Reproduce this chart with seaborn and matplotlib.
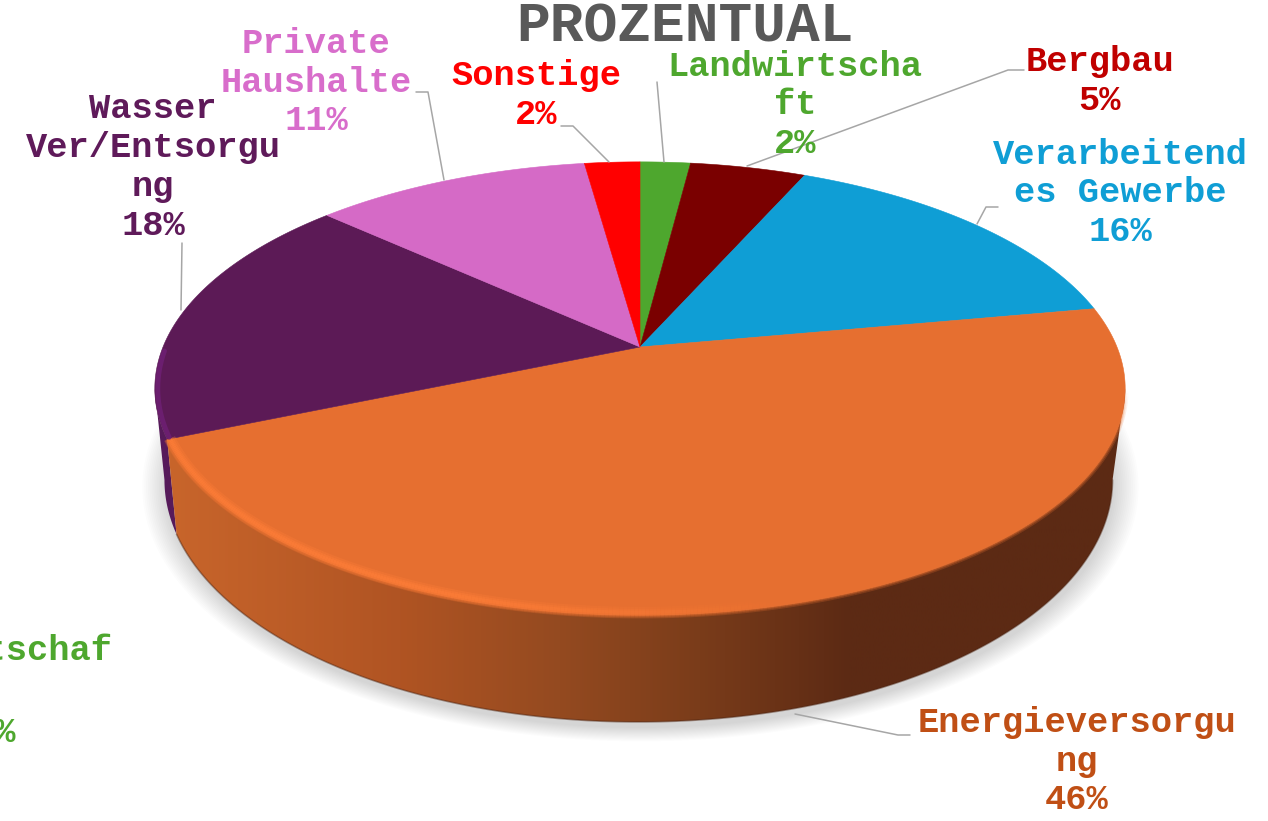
import numpy as np
import matplotlib
matplotlib.use('Agg')
import matplotlib.pyplot as plt
from matplotlib.collections import LineCollection
from matplotlib.colors import to_rgb
from matplotlib.patches import Polygon
import seaborn as sns

categories = ['Landwirtscha\nft', 'Bergbau', 'Verarbeitend\nes Gewerbe', 'Energieversorgu\nng',
              'Bauwirtschaf\nt', 'Wasser\nVer/Entsorgu\nng', 'Private\nHaushalte', 'Sonstige']
shares = [2.0, 4.6, 15.51, 46.49, 0.0, 18.2, 11.0, 2.2]
face_colors = ['#4ea72e', '#7a0000', '#0f9ed5', '#e66f30', '#4ea72e', '#5c1a56', '#d56ac6', '#ff0000']
text_colors = ['#4ea72e', '#c00000', '#0f9ed5', '#c04f15', '#4ea72e', '#5f1a5a', '#d86dcb', '#ff0000']

# where the labels and leader lines sit, in pixels
label_pos = [(795, 105), (1100, 81), (1120, 193), (1077, 761), (-15, 670), (153, 167), (316, 82), (536, 95)]
leaders = [[(657, 82), (664, 162)],
           [(1024, 70), (1008, 70), (747, 166)],
           [(998, 207), (986, 207), (977, 224)],
           [(910, 735), (898, 735), (795, 714)],
           None,
           [(182, 243), (181, 310)],
           [(416, 92), (428, 92), (444, 180)],
           [(561, 126), (573, 126), (609, 162)]]

W, H = 1268, 821
CX, CY, A, B, K = 640, 347, 219, 477, 0.183
# angle where the disc is widest, the side starts and ends there
WIDEST = np.degrees(np.arcsin(K))

sns.set_theme(style='white')
plt.rcParams['font.family'] = ['Liberation Mono', 'DejaVu Sans Mono']

fig, ax = plt.subplots(figsize=(W / 100, H / 100), dpi=100)
fig.subplots_adjust(0, 0, 1, 1)

# pie gives the angles, the perspective is applied afterwards
palette = sns.color_palette(face_colors)
wedges, _ = ax.pie(shares, startangle=90, counterclock=False, colors=palette)
angles = [(w.theta1 % 360, w.theta2 % 360) for w in wedges]
angles = [(t1, t2 if t2 > t1 or t2 - t1 == 0 else t2 + 360) for t1, t2 in angles]
for w in wedges:
    w.remove()
ax.set_aspect('auto')
ax.set_xlim(0, W)
ax.set_ylim(H, 0)
ax.axis('off')


def top_arc(t1, t2, n=200):
    t = np.radians(np.linspace(t1, t2, n))
    x, y = np.cos(t), np.sin(t)
    w = 1 + K * y
    return np.column_stack([CX + B * x / w, CY - A * y / w])


def bottom_of(pts):
    return np.column_stack([638.5 + (pts[:, 0] - CX) * 0.977, 480 + (pts[:, 1] - 388.5) * 1.068])


# soft shadow under the disc
rim = bottom_of(top_arc(0, 360, 400))
for grow in np.linspace(24, 0, 14):
    c = rim.mean(axis=0)
    pts = c + (rim - c) * (1 + grow / 472) + [2, 6]
    ax.add_patch(Polygon(pts, fc='black', ec='none', alpha=0.010, zorder=1))

orange = angles[3]
purple = angles[5]
front_start = 180 + WIDEST  # left edge of the disc
front_end = 360 - WIDEST  # right edge of the disc

# purple side, from the left edge to where the orange begins
arc = top_arc(front_start, purple[1])
side = np.vstack([arc, bottom_of(arc)[::-1]])
ax.add_patch(Polygon(side, fc='#561a5a', ec='none', zorder=2))

# orange side with the shading that runs left to right
arc = top_arc(orange[0], front_end)
side = np.vstack([arc, bottom_of(arc)[::-1]])
patch = Polygon(side, fc='none', ec='none', zorder=2)
ax.add_patch(patch)
xs = np.linspace(150, 1130, 400)
stops_x = [170, 400, 560, 700, 850, 1130]
stops = np.array([to_rgb(c) for c in ['#c8652b', '#b05423', '#944a20', '#7a3c1a', '#5c2a14', '#5c2a14']])
grad = np.stack([np.interp(xs, stops_x, stops[:, j]) for j in range(3)], axis=-1)[None, :, :]
im = ax.imshow(grad, extent=(150, 1130, 760, 300), aspect='auto', zorder=2)
im.set_clip_path(patch)
ax.set_xlim(0, W)
ax.set_ylim(H, 0)

# thin dark line along the lower rim
low = bottom_of(arc)
ax.plot(low[:, 0], low[:, 1], color='#4a2210', lw=1.2, alpha=0.45, zorder=2.5)

# top face
for (t1, t2), col in zip(angles, palette):
    if t2 - t1 < 1e-6:
        continue
    face = np.vstack([[CX, CY], top_arc(t1, t2)])
    ax.add_patch(Polygon(face, fc=col, ec=col, lw=0.4, zorder=3))

# bevel on the orange edge: soft outside, only where the side lies below it
arc = top_arc(orange[0], front_end, 400)
segs = np.stack([arc[:-1], arc[1:]], axis=1)
soft = np.clip((segs[:, 0, 1] - 392) / 40, 0, 1)
for lw, al in [(5, 0.25), (3, 0.35), (1.5, 0.5)]:
    cols = np.column_stack([np.tile(to_rgb('#e66f30'), (len(segs), 1)), soft * al])
    ax.add_collection(LineCollection(segs, colors=cols, linewidths=lw, zorder=4, capstyle='butt'))

# light band on the left and front
inner = np.column_stack([CX + (arc[:, 0] - CX) * 0.994, 388.5 + (arc[:, 1] - 388.5) * 0.988])
segs = np.stack([inner[:-1], inner[1:]], axis=1)
fade = np.clip((800 - segs[:, 0, 0]) / 350, 0, 1)
light = np.array(to_rgb('#ff7e38'))
for lw, al in [(8, 0.3), (5, 0.4), (2.5, 0.5)]:
    cols = np.column_stack([np.tile(light, (len(segs), 1)), fade * al])
    ax.add_collection(LineCollection(segs, colors=cols, linewidths=lw, zorder=4, capstyle='butt'))

# bevel on the purple edge
arc = top_arc(purple[1] - 22, purple[1] - 0.5, 60)
ax.plot(arc[:, 0] + 3, arc[:, 1], color='#6f2076', lw=3.5, alpha=0.8, zorder=4)

for name, val, col, pos, lead in zip(categories, shares, text_colors, label_pos, leaders):
    if lead is not None:
        lx, ly = zip(*lead)
        ax.plot(lx, ly, color='#a6a6a6', lw=1.1, zorder=5)
    if val == 0:
        ax.text(pos[0], pos[1], name, color=col, fontsize=25.5, fontweight='bold', ha='center', va='center',
                linespacing=1.22, zorder=6)
        ax.text(-6, 732, f'{round(val)}%', color=col, fontsize=25.5, fontweight='bold', ha='center', va='center', zorder=6)
    else:
        ax.text(pos[0], pos[1], f'{name}\n{round(val)}%', color=col, fontsize=25.5, fontweight='bold', ha='center',
                va='center', linespacing=1.22, zorder=6)

ax.text(685, 27, 'PROZENTUAL', color='#595959', fontsize=40.5, fontweight='bold', ha='center', va='center', zorder=6)

fig.savefig('out.png', dpi=100)
